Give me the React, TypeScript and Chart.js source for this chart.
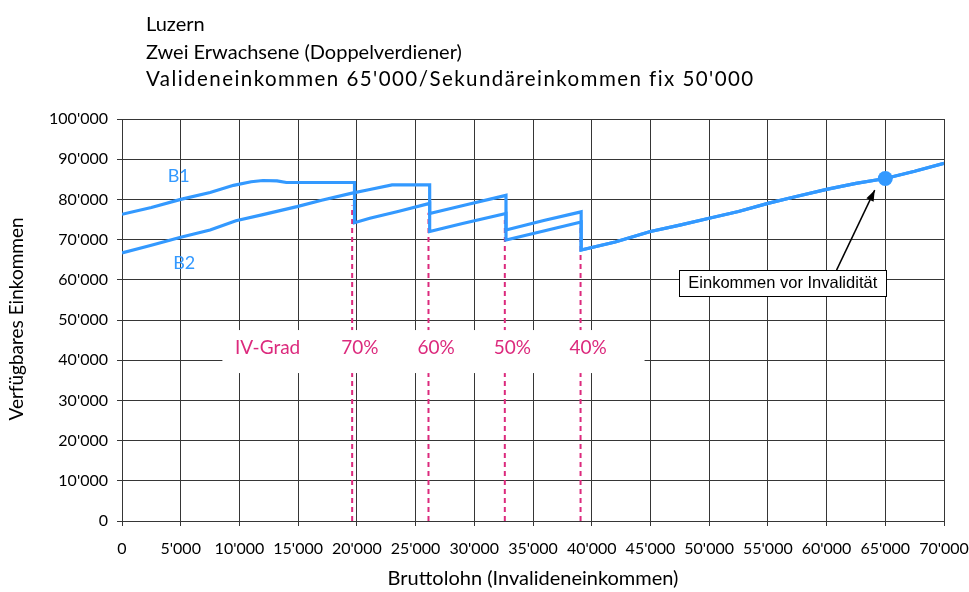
import React, { useEffect, useRef } from 'react';
import { Chart, registerables } from 'chart.js';

Chart.register(...registerables);

const titleLines = [
  'Luzern',
  'Zwei Erwachsene (Doppelverdiener)',
  "Valideneinkommen 65'000/Sekundäreinkommen fix 50'000",
];
const xAxisTitle = 'Bruttolohn (Invalideneinkommen)';
const yAxisTitle = 'Verfügbares Einkommen';

// Curve B1 (upper at start)
const b1Income = [0, 2500, 5000, 7500, 9500, 11000, 12000, 13200, 14000, 19800, 19800, 21100, 23500, 26200, 26200, 29500, 32700, 32700, 36000, 39100];
const b1Value = [76300, 78000, 80000, 81700, 83500, 84400, 84700, 84600, 84200, 84200, 74200, 75300, 77000, 79000, 76500, 78800, 81000, 69900, 72200, 74400];

// Curve B2 (lower at start)
const b2Income = [0, 2500, 5000, 7500, 9700, 12000, 14900, 17000, 19500, 21000, 23000, 26200, 26200, 29000, 32700, 32700, 36000, 39100];
const b2Value = [66700, 68600, 70600, 72400, 74700, 76200, 78200, 79800, 81500, 82400, 83600, 83600, 72000, 74000, 76500, 72400, 74800, 76900];

// Common part of both curves after the last jump
const tailIncome = [39100, 42000, 45000, 47500, 50000, 52500, 55000, 57500, 60000, 62500, 65000, 67500, 70000];
const tailValue = [67400, 69400, 72000, 73600, 75300, 77000, 79000, 80800, 82500, 84000, 85200, 87000, 89000];

// IV-Grad thresholds
const ivGradIncome = [19600, 26100, 32600, 39050];
const ivGradTop = [78500, 76700, 74900, 73200];
const ivGradLabels = ['70%', '60%', '50%', '40%'];
const ivGradCaption = 'IV-Grad';

// Income before invalidity
const markerIncome = [65000];
const markerValue = [85200];
const markerCaption = 'Einkommen vor Invalidität';

const seriesNames = ['B1', 'B2'];

const FONT = 'Lato, "Open Sans", sans-serif';
const BLUE = '#3399ff';
const MAGENTA = '#dc2a7d';
const GRID = '#363636';

const fmt = (v: number) => (v === 0 ? '0' : `${Math.round(v / 1000)}'000`);
const pts = (xs: number[], ys: number[]) => xs.map((x, i) => ({ x, y: ys[i] }));

export default function App() {
  const ref = useRef<HTMLCanvasElement>(null);

  useEffect(() => {
    document.body.style.margin = '0';
    const canvas = ref.current!;

    const overlay = {
      id: 'overlay',
      afterDatasetsDraw(chart: any) {
        const { ctx } = chart;
        const xs = chart.scales.x;
        const ys = chart.scales.y;
        ctx.save();
        // IV-Grad label box
        const bx0 = xs.getPixelForValue(8550);
        const bx1 = xs.getPixelForValue(44500);
        const by0 = ys.getPixelForValue(47500);
        const by1 = ys.getPixelForValue(36800);
        ctx.fillStyle = '#ffffff';
        ctx.fillRect(bx0, by0, bx1 - bx0, by1 - by0);
        ctx.fillStyle = MAGENTA;
        ctx.font = `19px ${FONT}`;
        ctx.textAlign = 'center';
        ctx.textBaseline = 'middle';
        const ty = ys.getPixelForValue(43000);
        ctx.fillText(ivGradCaption, xs.getPixelForValue(12400), ty);
        ivGradLabels.forEach((l, i) => ctx.fillText(l, xs.getPixelForValue(ivGradIncome[i] + 650), ty));

        // series labels
        ctx.fillStyle = BLUE;
        ctx.font = `18px ${FONT}`;
        ctx.fillText(seriesNames[0], xs.getPixelForValue(4830), ys.getPixelForValue(85700));
        ctx.fillText(seriesNames[1], xs.getPixelForValue(5300), ys.getPixelForValue(64200));

        // annotation arrow
        const ax0 = xs.getPixelForValue(60850);
        const ay0 = ys.getPixelForValue(62400);
        const ax1 = xs.getPixelForValue(64100);
        const ay1 = ys.getPixelForValue(82300);
        ctx.strokeStyle = '#000';
        ctx.fillStyle = '#000';
        ctx.lineWidth = 1.5;
        ctx.beginPath();
        ctx.moveTo(ax0, ay0);
        ctx.lineTo(ax1, ay1);
        ctx.stroke();
        const ang = Math.atan2(ay1 - ay0, ax1 - ax0);
        const L = 11, W = 4;
        ctx.beginPath();
        ctx.moveTo(ax1, ay1);
        ctx.lineTo(ax1 - L * Math.cos(ang) + W * Math.sin(ang), ay1 - L * Math.sin(ang) - W * Math.cos(ang));
        ctx.lineTo(ax1 - L * Math.cos(ang) - W * Math.sin(ang), ay1 - L * Math.sin(ang) + W * Math.cos(ang));
        ctx.closePath();
        ctx.fill();

        // annotation box
        ctx.font = '16.5px "Liberation Sans", Arial, sans-serif';
        const tw = ctx.measureText(markerCaption).width;
        const cx = xs.getPixelForValue(56270);
        const cy = ys.getPixelForValue(59250);
        const bw = Math.round(tw + 18);
        const bh = 26;
        const rx = Math.round(cx - bw / 2) + 0.5;
        const ry = Math.round(cy - bh / 2) + 0.5;
        ctx.fillStyle = '#fff';
        ctx.fillRect(rx, ry, bw, bh);
        ctx.lineWidth = 1;
        ctx.strokeRect(rx, ry, bw, bh);
        ctx.fillStyle = '#000';
        ctx.textAlign = 'center';
        ctx.textBaseline = 'middle';
        ctx.fillText(markerCaption, cx, cy + 1);
        ctx.restore();
      },
      afterDraw(chart: any) {
        const { ctx, chartArea } = chart;
        ctx.save();
        ctx.fillStyle = '#000';
        ctx.textAlign = 'left';
        ctx.textBaseline = 'alphabetic';
        const baselines = [31, 58.5, 86];
        const sizes = [20, 20, 20.5];
        const targetWidths = [0, 0, 607];
        titleLines.forEach((t, i) => {
          ctx.font = `${sizes[i]}px ${FONT}`;
          ctx.letterSpacing = '0px';
          if (targetWidths[i]) {
            const w = ctx.measureText(t).width;
            const extra = (targetWidths[i] - w) / Math.max(t.length - 1, 1);
            ctx.letterSpacing = `${Math.max(extra, 0).toFixed(2)}px`;
          }
          ctx.fillText(t, 146, baselines[i]);
        });
        ctx.letterSpacing = '0px';

        ctx.font = `20px ${FONT}`;
        ctx.textAlign = 'center';
        ctx.fillText(xAxisTitle, (chartArea.left + chartArea.right) / 2, 585);

        ctx.font = `19px ${FONT}`;
        ctx.translate(17, (chartArea.top + chartArea.bottom) / 2 - 1);
        ctx.rotate(-Math.PI / 2);
        ctx.textBaseline = 'middle';
        ctx.fillText(yAxisTitle, 0, 0);
        ctx.restore();
      },
    };

    const datasets: any[] = [
      {
        label: 'Einkommen vor Invalidität',
        data: pts(markerIncome, markerValue),
        showLine: false,
        pointRadius: 7.5,
        pointBackgroundColor: BLUE,
        pointBorderWidth: 0,
      },
      {
        label: seriesNames[0],
        data: pts([...b1Income, ...tailIncome], [...b1Value, ...tailValue]),
        showLine: true,
        borderColor: BLUE,
        borderWidth: 3.2,
        pointRadius: 0,
        tension: 0,
      },
      {
        label: seriesNames[1],
        data: pts([...b2Income, ...tailIncome], [...b2Value, ...tailValue]),
        showLine: true,
        borderColor: BLUE,
        borderWidth: 3.2,
        pointRadius: 0,
        tension: 0,
      },
      ...ivGradIncome.map((x, i) => ({
        label: ivGradLabels[i],
        data: [
          { x, y: 0 },
          { x, y: ivGradTop[i] },
        ],
        showLine: true,
        borderColor: MAGENTA,
        borderWidth: 2,
        borderDash: [5, 4],
        pointRadius: 0,
      })),
    ];

    const chart = new Chart(canvas, {
      type: 'scatter',
      data: { datasets },
      options: {
        animation: false,
        responsive: false,
        devicePixelRatio: 1,
        layout: { padding: { top: 119, right: 25, left: 0, bottom: 0 } },
        plugins: {
          legend: { display: false },
          tooltip: { enabled: false },
          title: { display: false },
        },
        scales: {
          x: {
            type: 'linear',
            min: 0,
            max: 70000,
            afterFit: (s: any) => {
              s.height = 71;
              s.paddingLeft = 0;
              s.paddingRight = 0;
            },
            ticks: {
              stepSize: 5000,
              autoSkip: false,
              maxRotation: 0,
              minRotation: 0,
              padding: 13.5,
              color: '#000',
              font: { family: FONT, size: 16 },
              callback: (v: any) => fmt(Number(v)),
            },
            grid: { color: GRID, lineWidth: 1, tickLength: 5, tickColor: GRID },
            border: { color: GRID, width: 1 },
          },
          y: {
            type: 'linear',
            min: 0,
            max: 100000,
            afterFit: (s: any) => {
              s.width = 122;
              s.paddingTop = 0;
              s.paddingBottom = 0;
            },
            ticks: {
              stepSize: 10000,
              padding: 9,
              color: '#000',
              font: { family: FONT, size: 16 },
              callback: (v: any) => fmt(Number(v)),
            },
            grid: { color: GRID, lineWidth: 1, tickLength: 5, tickColor: GRID },
            border: { color: GRID, width: 1 },
          },
        },
      },
      plugins: [overlay],
    });
    return () => chart.destroy();
  }, []);

  return (
    <div style={{ width: 969, height: 592 }}>
      <canvas ref={ref} width={969} height={592} style={{ display: 'block' }} />
    </div>
  );
}
